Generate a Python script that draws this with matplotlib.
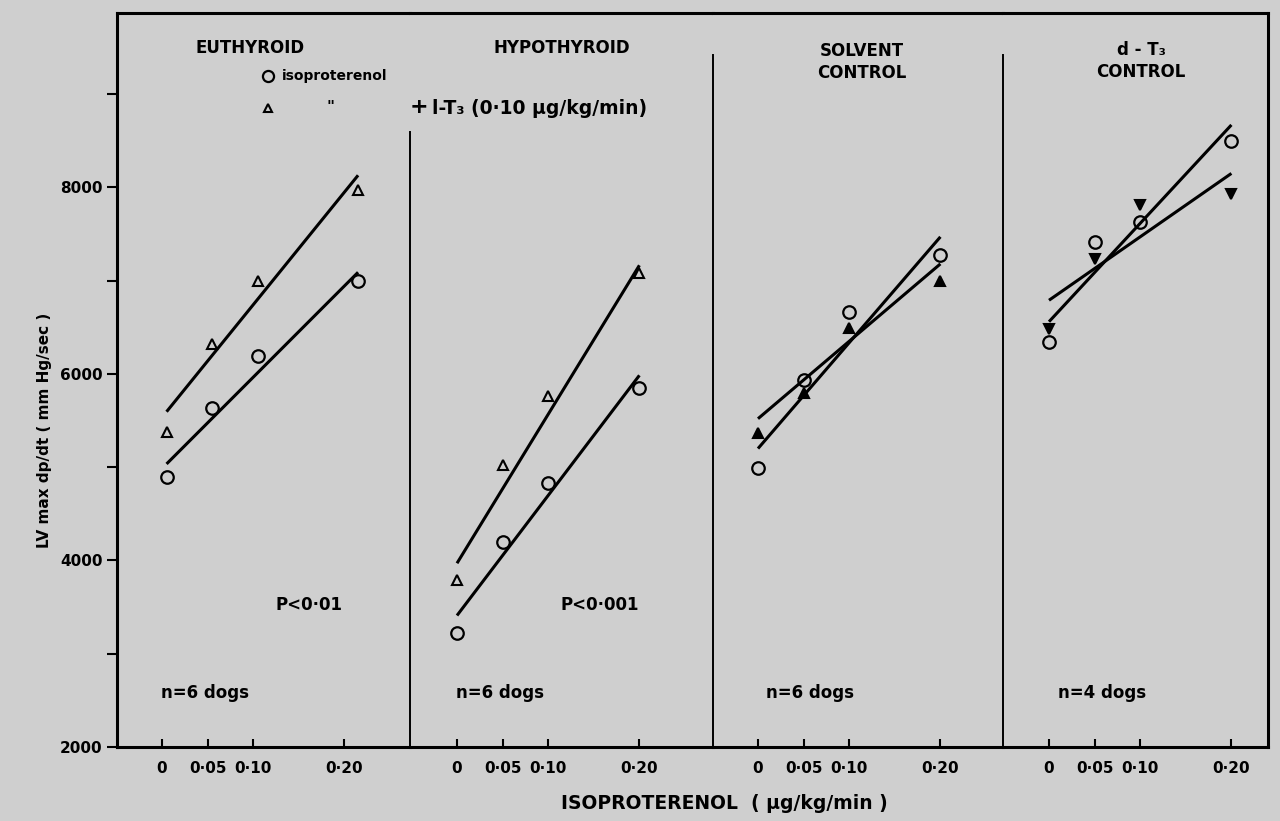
import matplotlib
matplotlib.use('Agg')
import matplotlib.pyplot as plt
from matplotlib.lines import Line2D
from matplotlib.ticker import FixedLocator

plt.rcParams['font.family'] = ['DejaVu Sans']
plt.rcParams['font.weight'] = 'bold'

# ---- data ----
panel_titles = ['EUTHYROID', 'HYPOTHYROID', 'SOLVENT\nCONTROL', 'd - T₃\nCONTROL']
dose_ticks = [0, 0.05, 0.10, 0.20]
dose_labels = ['0', '0·05', '0·10', '0·20']

# x positions where the points sit (panel 1 is drawn a little to the right)
dose_pts = [
    [0.005, 0.055, 0.105, 0.215],
    [0, 0.05, 0.10, 0.20],
    [0, 0.05, 0.10, 0.20],
    [0, 0.05, 0.10, 0.20],
]

# isoproterenol alone (circles)
iso = [
    [4890, 5640, 6190, 7000],
    [3220, 4195, 4830, 5850],
    [4990, 5930, 6660, 7280],
    [6340, 7410, 7630, 8500],
]
# isoproterenol + T3 / control (triangles)
iso_t3 = [
    [5380, 6320, 7000, 7970],
    [3790, 5020, 5760, 7080],
    [5370, 5800, 6490, 7000],
    [6480, 7230, 7810, 7930],
]
# regression lines: (start, end) values
iso_fit = [(5035, 7090), (3410, 5985), (5200, 7470), (6560, 8670)]
iso_t3_fit = [(5595, 8130), (3970, 7165), (5520, 7180), (6790, 8150)]
fit_x = [(0.005, 0.215), (0, 0.20), (0, 0.20), (0, 0.20)]

tri_marker = ['^', '^', '^', 'v']
tri_fill = [False, False, True, True]
p_text = ['P<0·01', 'P<0·001', None, None]
n_text = ['n=6 dogs', 'n=6 dogs', 'n=6 dogs', 'n=4 dogs']

# ---- layout (pixel boxes of the scanned figure) ----
W, H = 1280, 821
bg = '#cfcfcf'
fig = plt.figure(figsize=(W / 100, H / 100), dpi=100, facecolor=bg)

edges = [117, 410, 713, 1003, 1268]
zero_px = [162, 457, 758, 1049]
px_per_unit = 912
top_px, bot_px = 13, 747
divider_top = [None, 132, 55, 55]
ylim = (2000, 9870)


def fx(px):
    return px / W


def fy(py):
    return 1 - py / H


axes = []
for i in range(4):
    l, r = edges[i], edges[i + 1]
    ax = fig.add_axes([fx(l), fy(bot_px), fx(r - l), (bot_px - top_px) / H])
    ax.set_facecolor(bg)
    ax.set_xlim((l - zero_px[i]) / px_per_unit, (r - zero_px[i]) / px_per_unit)
    ax.set_ylim(*ylim)
    for s in ['left', 'right']:
        ax.spines[s].set_visible(False)
    for s in ['top', 'bottom']:
        ax.spines[s].set_linewidth(2.2)
    ax.set_xticks(dose_ticks)
    ax.set_xticklabels(dose_labels, fontsize=11, fontweight='bold')
    ax.tick_params(axis='x', direction='in', length=6, width=1.5, pad=10)
    ax.tick_params(axis='y', left=False, labelleft=False)
    if divider_top[i] is not None:
        frac = (bot_px - divider_top[i]) / (bot_px - top_px)
        ax.axvline(ax.get_xlim()[0], ymin=0, ymax=frac, color='black', lw=1.4, clip_on=False)

    # fit lines
    ax.plot(fit_x[i], iso_fit[i], color='black', lw=2.2, solid_capstyle='butt')
    ax.plot(fit_x[i], iso_t3_fit[i], color='black', lw=2.2, solid_capstyle='butt')
    # points
    ax.plot(dose_pts[i], iso[i], 'o', ms=9, mfc='none', mec='black', mew=1.6)
    ax.plot(dose_pts[i], iso_t3[i], tri_marker[i], ms=6.5 if not tri_fill[i] else 7,
            mfc='black' if tri_fill[i] else 'none', mec='black', mew=1.5)
    axes.append(ax)

# outer frame pieces
axes[0].spines['left'].set_visible(True)
axes[0].spines['left'].set_linewidth(2.2)
axes[0].tick_params(axis='y', left=True, labelleft=True, direction='out',
                    length=7, width=1.5, labelsize=11)
axes[0].yaxis.set_major_locator(FixedLocator([2000, 4000, 6000, 8000]))
axes[0].yaxis.set_minor_locator(FixedLocator([3000, 5000, 7000, 9000]))
axes[0].tick_params(axis='y', which='minor', direction='out', length=7, width=1.5)
for lab in axes[0].get_yticklabels():
    lab.set_fontweight('bold')
axes[3].spines['right'].set_visible(True)
axes[3].spines['right'].set_linewidth(2.2)

# panel titles
title_pos = [(250, 48), (562, 48), (862, 62), (1141, 61)]
for t, (x, y) in zip(panel_titles, title_pos):
    fig.text(fx(x), fy(y), t, ha='center', va='center', fontsize=12,
             fontweight='bold', linespacing=1.35)

# legend
fig.add_artist(Line2D([fx(268)], [fy(76)], marker='o', ms=8, mfc='none', mec='black',
                      mew=1.6, transform=fig.transFigure))
fig.text(fx(282), fy(76), 'isoproterenol', ha='left', va='center', fontsize=10, fontweight='bold')
fig.add_artist(Line2D([fx(268)], [fy(108)], marker='^', ms=6, mfc='none', mec='black',
                      mew=1.5, transform=fig.transFigure))
fig.text(fx(330), fy(108), '"', ha='center', va='center', fontsize=11, fontweight='bold')
fig.text(fx(419), fy(107), '+', ha='center', va='center', fontsize=16, fontweight='bold')
fig.text(fx(432), fy(108), 'l-T₃ (0·10 μg/kg/min)', ha='left', va='center',
         fontsize=13.5, fontweight='bold')

# p-values and n
p_pos = [(309, 605), (600, 605)]
for t, (x, y) in zip(p_text, p_pos):
    fig.text(fx(x), fy(y), t, ha='center', va='center', fontsize=12, fontweight='bold')
n_pos = [(205, 693), (500, 693), (810, 693), (1102, 693)]
for t, (x, y) in zip(n_text, n_pos):
    fig.text(fx(x), fy(y), t, ha='center', va='center', fontsize=12, fontweight='bold')

# axis labels
fig.text(fx(724), fy(803), 'ISOPROTERENOL  ( μg/kg/min )', ha='center', va='center',
         fontsize=13.5, fontweight='bold')
fig.text(fx(45), fy(430), 'LV max dp/dt ( mm Hg/sec )', ha='center', va='center',
         rotation=90, fontsize=11, fontweight='bold')

fig.savefig('out.png', dpi=100, facecolor=bg)
